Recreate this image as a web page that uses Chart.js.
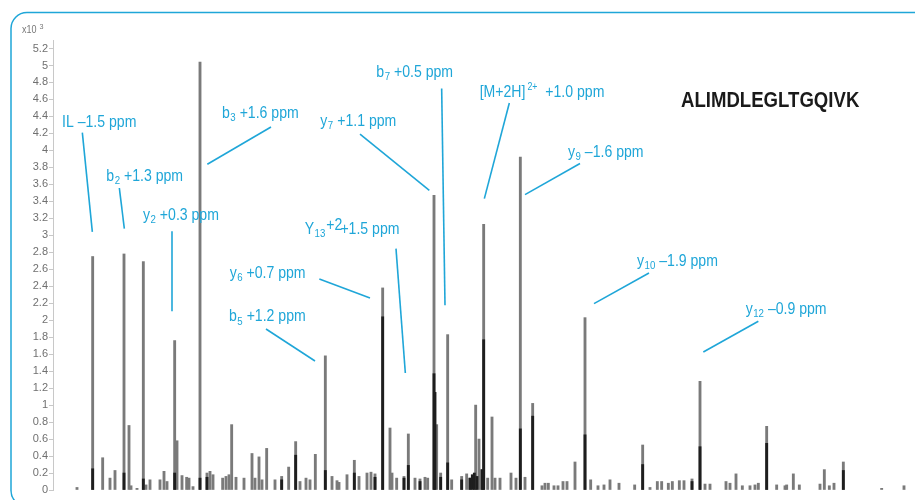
<!DOCTYPE html>
<html><head><meta charset="utf-8">
<script src="https://cdn.jsdelivr.net/npm/chart.js@4/dist/chart.umd.min.js"></script>
<style>html,body{margin:0;padding:0;background:#fff;overflow:hidden}#wrap{width:915px;height:500px;position:relative}</style>
</head><body><div id="wrap"><canvas id="c"></canvas></div>
<script>
// ---- peaks (m/z, intensity x10^3) ----
const mzGray = [136,159.5,174.5,185.5,193,206.5,214,217,226,235.5,239.5,245.5,260.5,266.5,271,282.5,286,293.5,300.5,304,310,320.5,331,335.5,340,354.5,359.5,364,368,374.5,386.5,398.5,403,409,413.5,420.5,433,443,453.5,464,470.5,479.5,485.5,493.5,508.5,518.5,526,529,541,552,559,571,577,583,594.5,605.5,608.5,615.5,626.5,633,643,650.5,658,662,671.5,675.5,681.5,692,698,713,720.5,725.5,734,739,742,746,752,758.5,763,770.5,787,794.5,801,808,819.5,833.5,838,843,851.5,857.5,865,871,883,898,906.5,917.5,926.5,935.5,949,972.5,984.5,995.5,1006.5,1013,1023,1029,1039.5,1046.5,1058.5,1070.5,1078,1085.5,1109.5,1115.5,1124.5,1134,1145.5,1153,1158,1170.5,1185.5,1198,1200.5,1210.5,1219.5,1250.5,1257,1264.5,1271.5,1285.5,1343,1376.5];
const intGray = [0.03,2.75,0.38,0.14,0.23,2.78,0.76,0.05,0.02,2.69,0.06,0.12,0.12,0.22,0.1,1.76,0.58,0.17,0.15,0.14,0.04,5.04,0.2,0.22,0.18,0.14,0.16,0.18,0.77,0.15,0.14,0.43,0.14,0.39,0.12,0.49,0.12,0.16,0.27,0.57,0.1,0.14,0.12,0.42,1.58,0.16,0.11,0.09,0.18,0.35,0.16,0.2,0.21,0.19,2.38,0.73,0.2,0.14,0.16,0.66,0.14,0.13,0.15,0.14,3.47,0.77,0.2,1.83,0.12,0.16,0.19,0.14,1.0,0.6,0.24,3.13,0.14,0.86,0.14,0.14,0.2,0.14,3.92,0.15,1.02,0.05,0.08,0.08,0.05,0.05,0.1,0.1,0.33,2.03,0.12,0.05,0.06,0.12,0.08,0.06,0.53,0.03,0.1,0.1,0.08,0.1,0.11,0.11,0.13,1.28,0.07,0.07,0.1,0.08,0.19,0.05,0.05,0.06,0.08,0.75,0.06,0.05,0.06,0.19,0.06,0.07,0.24,0.05,0.08,0.33,0.02,0.05];
const mzDark = [159.5,206.5,235.5,282.5,320.5,331,443,464,508.5,552,583,594.5,626.5,633,650.5,671.5,673,681.5,692,713,725.5,729,732,736,744,746,801,819.5,898,984.5,1058.5,1070.5,1170.5,1285.5];
const intDark = [0.25,0.2,0.13,0.2,0.14,0.15,0.12,0.41,0.23,0.2,0.15,2.04,0.14,0.29,0.1,1.37,1.15,0.15,0.32,0.12,0.14,0.18,0.2,0.16,0.24,1.77,0.72,0.87,0.65,0.3,0.1,0.51,0.55,0.23];
const yTickValues = [0,0.2,0.4,0.6,0.8,1,1.2,1.4,1.6,1.8,2,2.2,2.4,2.6,2.8,3,3.2,3.4,3.6,3.8,4,4.2,4.4,4.6,4.8,5,5.2];

// ---- annotations ----
const annParts = [
  [['IL \u20131.5 ppm','n']],
  [['b','n'],['2','sub'],[' +1.3 ppm','n']],
  [['y','n'],['2','sub'],[' +0.3 ppm','n']],
  [['b','n'],['3','sub'],[' +1.6 ppm','n']],
  [['b','n'],['7','sub'],[' +0.5 ppm','n']],
  [['[M+2H]','n'],['2+','sup'],['  +1.0 ppm','n']],
  [['y','n'],['7','sub'],[' +1.1 ppm','n']],
  [['y','n'],['9','sub'],[' \u20131.6 ppm','n']],
  [['Y','n'],['13','sub'],['+2','raise'],['+1.5 ppm','tight']],
  [['y','n'],['6','sub'],[' +0.7 ppm','n']],
  [['b','n'],['5','sub'],[' +1.2 ppm','n']],
  [['y','n'],['10','sub'],[' \u20131.9 ppm','n']],
  [['y','n'],['12','sub'],[' \u20130.9 ppm','n']]
];
const annMz  = [113.5,180,235,353.5,585,740,501,872.5,477.5,365,364,976,1139];
const annInt = [4.33,3.695,3.236,4.437,4.92,4.684,4.343,3.978,3.071,2.552,2.038,2.694,2.128];
const annLines = [
  [144,4.21,159,3.04],
  [199.5,3.557,207,3.079],
  [278.5,3.047,278.5,2.105],
  [427,4.276,331.5,3.836],
  [683,4.728,688,2.175],
  [784.5,4.558,747,3.432],
  [560.5,4.19,664.5,3.53],
  [890.5,3.845,808,3.479],
  [614.5,2.843,628.5,1.378],
  [499.5,2.485,575.5,2.261],
  [419.5,1.896,493,1.519],
  [994,2.556,911.5,2.195],
  [1158,1.987,1075.5,1.625]
];
const peptide = 'ALIMDLEGLTGQIVK';
const peptideMz = 1042, peptideInt = 4.585;
const multiplierText = ['x10','3'];

const CYAN = '#1fa6d8';
const SANS = '"Liberation Sans",Arial,sans-serif';
const SX = 0.88;

function scaledText(ctx, t, x, y, font, sx){
  ctx.save();
  ctx.font = font;
  ctx.translate(x, y);
  ctx.scale(sx, 1);
  ctx.fillText(t, 0, 0);
  const w = ctx.measureText(t).width * sx;
  ctx.restore();
  return w;
}

const framePlugin = {
  id:'frame',
  beforeDraw(chart){
    const ctx = chart.ctx;
    ctx.save();
    ctx.fillStyle='#fff'; ctx.fillRect(0,0,chart.width,chart.height);
    ctx.strokeStyle = CYAN; ctx.lineWidth = 1.5;
    ctx.beginPath();
    ctx.roundRect(11,12.5,940,494,16);
    ctx.stroke();
    ctx.restore();
  }
};

const annPlugin = {
  id:'ann',
  afterDraw(chart){
    const ctx = chart.ctx, xs = chart.scales.x, ys = chart.scales.y;
    ctx.save();
    ctx.strokeStyle = CYAN; ctx.lineWidth = 1.6; ctx.lineCap='butt';
    annLines.forEach(l=>{
      ctx.beginPath();
      ctx.moveTo(xs.getPixelForValue(l[0]), ys.getPixelForValue(l[1]));
      ctx.lineTo(xs.getPixelForValue(l[2]), ys.getPixelForValue(l[3]));
      ctx.stroke();
    });
    ctx.fillStyle = CYAN; ctx.textBaseline='middle'; ctx.textAlign='left';
    annParts.forEach((parts,i)=>{
      let px = xs.getPixelForValue(annMz[i]);
      const py = ys.getPixelForValue(annInt[i]);
      parts.forEach(([t,s])=>{
        let size=16, dy=0, dx=0;
        if(s==='sub'){size=11; dy=5; dx=0.5;}
        else if(s==='sup'){size=10; dy=-5; dx=2;}
        else if(s==='raise'){size=16; dy=-4; dx=1;}
        else if(s==='tight'){dx=-2;}
        px += dx;
        px += scaledText(ctx, t, px, py+dy, size+'px '+SANS, SX);
      });
    });
    // peptide
    ctx.fillStyle='#1a1a1a';
    scaledText(ctx, peptide, xs.getPixelForValue(peptideMz), ys.getPixelForValue(peptideInt), 'bold 22px '+SANS, 0.845);
    // multiplier
    ctx.fillStyle='#777';
    const mx = 22, my = ys.top - 10;
    const w = scaledText(ctx, multiplierText[0], mx, my, '10px '+SANS, 0.9);
    scaledText(ctx, multiplierText[1], mx+w+3, my-3, '8px '+SANS, 0.9);
    ctx.restore();
  }
};

new Chart(document.getElementById('c'), {
  type:'bar',
  data:{
    datasets:[
      {label:'overlap', data: mzDark.map((m,i)=>({x:m,y:intDark[i]})), backgroundColor:'#1e1e1e', barThickness:2.2, order:0},
      {label:'peaks', data: mzGray.map((m,i)=>({x:m,y:intGray[i]})), backgroundColor:'#7a7a7a', barThickness:2.2, order:1}
    ]
  },
  options:{
    responsive:true, maintainAspectRatio:false, animation:false,
    datasets:{bar:{grouped:false}},
    layout:{padding:{left:0,top:40,right:2,bottom:10}},
    plugins:{legend:{display:false},tooltip:{enabled:false}},
    scales:{
      x:{type:'linear', min:100, max:1390, offset:false, display:false},
      y:{type:'linear', min:0, max:5.3,
        afterFit(s){ s.width = 53; },
        afterBuildTicks(s){ s.ticks = yTickValues.map(v=>({value:v})); },
        border:{display:true,color:'#c8c8c8',width:1},
        grid:{drawOnChartArea:false, drawTicks:true, tickLength:4, color:'#c8c8c8'},
        ticks:{padding:1, color:'#707070', font:{size:11, family:SANS},
          callback:(v)=>String(Number(Number(v).toFixed(1)))}
      }
    }
  },
  plugins:[framePlugin, annPlugin]
});
</script></body></html>
